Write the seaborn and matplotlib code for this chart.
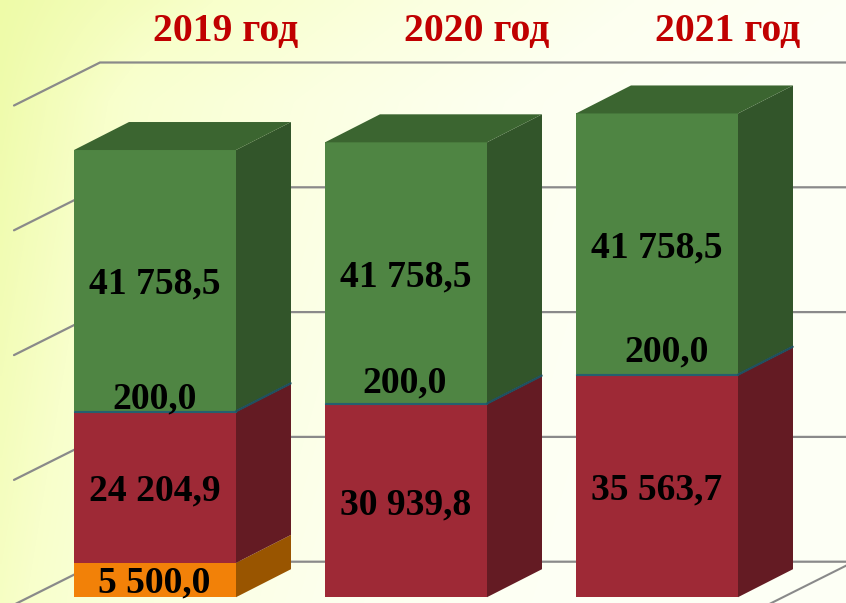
import numpy as np
import pandas as pd
import matplotlib
matplotlib.use("Agg")
import matplotlib.pyplot as plt
from matplotlib.patches import Polygon
from matplotlib.colors import LinearSegmentedColormap
import seaborn as sns

years = ["2019 год", "2020 год", "2021 год"]
orange_vals = [5500.0, 0.0, 0.0]
red_vals = [24204.9, 30939.8, 35563.7]
teal_vals = [200.0, 200.0, 200.0]
green_vals = [41758.5, 41758.5, 41758.5]
orange_labels = ["5 500,0", None, None]
red_labels = ["24 204,9", "30 939,8", "35 563,7"]
teal_labels = ["200,0", "200,0", "200,0"]
green_labels = ["41 758,5", "41 758,5", "41 758,5"]
grid_ticks = [0, 20000, 40000, 60000, 80000]

W, H = 846, 603
PX_X = 251.0            # pixels per category
PX_Y = 0.00624          # pixels per value unit
BASE_PX = 597.2         # pixel row of value 0 on the bars
X0_PX = 155.0           # pixel column of the first category

sns.set_theme(style="white")
plt.rcParams["font.family"] = ["Liberation Serif", "DejaVu Serif"]

fig = plt.figure(figsize=(W / 100, H / 100), dpi=100)
ax = fig.add_axes([0, 0, 1, 1])

def dx(px):
    return px / PX_X
def dy(px):
    return px / PX_Y

xlim = (-X0_PX / PX_X, (W - X0_PX) / PX_X)
ylim = (-(H - BASE_PX) / PX_Y, BASE_PX / PX_Y)

# page background: row 0 is the top of the page
gx, gy = np.meshgrid(np.linspace(0, 1, 212), np.linspace(0, 1, 151))
g = np.clip(gx + 0.2 * gy + 0.12 * np.clip(gy * 6, 0, 1) * np.clip(gx * 6, 0, 1), 0, 1)
bg_cmap = LinearSegmentedColormap.from_list(
    "bg", ["#EEFBA8", "#F8FFCB", "#FBFFE0", "#FDFFF0", "#FDFFF5"])
ax.imshow(g, cmap=bg_cmap, extent=(*xlim, *ylim), origin="upper", aspect="auto",
          zorder=0, interpolation="bilinear")

# chart walls
wall_lift = dy(35.5)
wall_x0 = dx(100) + xlim[0]
wall_x1 = dx(854) + xlim[0]
side_x = dx(14) + xlim[0]
side_drop = dy(43)
grid_col = "#8A8A8A"
for t in grid_ticks:
    y = t + wall_lift
    ax.plot([side_x, wall_x0, xlim[1] + 1], [y - side_drop, y, y],
            color=grid_col, lw=1.6, zorder=1, solid_joinstyle="miter")
ax.plot([wall_x1, wall_x1 - dx(86)], [wall_lift, wall_lift - side_drop],
        color=grid_col, lw=1.5, zorder=1)

# stacked bars
series = [
    (orange_vals, "#F28108", "#995500", orange_labels),
    (red_vals, "#9E2936", "#641B23", red_labels),
    (teal_vals, "#25606F", "#1F5060", teal_labels),
    (green_vals, "#4F8543", "#32552A", green_labels),
]
depth_x, depth_y = dx(55), dy(28)
bar_width = 162 / PX_X
bottom = np.zeros(3)
bottoms = []
for vals, front, side, labels in series:
    df = pd.DataFrame({"year": years, "value": vals})
    n_before = len(ax.patches)
    thin = labels is teal_labels
    z = 4 if thin else 3
    sns.barplot(data=df, x="year", y="value", order=years, color=front, saturation=1,
                width=bar_width, bottom=bottom, errorbar=None, ax=ax, zorder=z,
                linewidth=0.8 if thin else 0, edgecolor=front)
    for p, v in zip(ax.patches[n_before:], vals):
        if v <= 0:
            continue
        x1 = p.get_x() + p.get_width()
        y0, y1 = p.get_y(), p.get_y() + p.get_height()
        ax.add_patch(Polygon([(x1, y0), (x1 + depth_x, y0 + depth_y),
                              (x1 + depth_x, y1 + depth_y), (x1, y1)],
                             closed=True, fc=side, ec=side if thin else "none",
                             lw=0.8 if thin else 0, zorder=z))
    bottoms.append(bottom.copy())
    bottom = bottom + np.array(vals)

# top faces
for i, top in enumerate(bottom):
    xa, xb = i - bar_width / 2, i + bar_width / 2
    ax.add_patch(Polygon([(xa, top), (xa + depth_x, top + depth_y),
                          (xb + depth_x, top + depth_y), (xb, top)],
                         closed=True, fc="#3B6530", ec="none", zorder=3))

# value labels
label_fs = 27.1
teal_shift_x = [0, -1, 10]
teal_shift_y = [16.5, 25, 27]
for (vals, _, _, labels), base in zip(series, bottoms):
    is_teal = labels is teal_labels
    shift_x = -1 if labels is orange_labels else 0
    shift_y = 1 if labels is orange_labels else 0
    for i, lab in enumerate(labels):
        if lab is None:
            continue
        x = i + dx(teal_shift_x[i] if is_teal else shift_x)
        y = base[i] + vals[i] / 2 + dy(teal_shift_y[i] if is_teal else shift_y)
        ax.text(x, y, lab, ha="center", va="center_baseline", fontsize=label_fs,
                fontweight="bold", color="black", zorder=5)

# year headers
for i, yr in enumerate(years):
    ax.text(i + dx(70.5), dy(BASE_PX - 26.5), yr, ha="center", va="center_baseline",
            fontsize=28.6, fontweight="bold", color="#C00000", zorder=5)

ax.set_xlim(*xlim)
ax.set_ylim(*ylim)
ax.axis("off")
fig.savefig("out.png", dpi=100)
